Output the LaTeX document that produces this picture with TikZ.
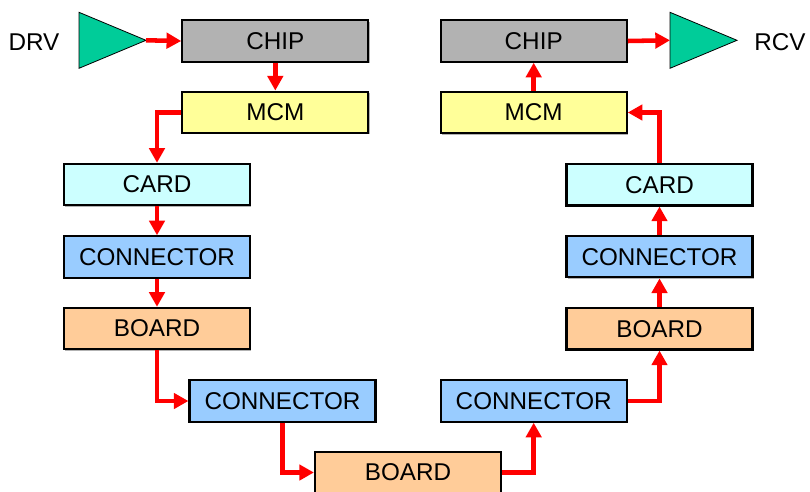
\documentclass[tikz,border=0pt]{standalone}
\usepackage{fontspec}
\setmainfont{Liberation Sans}
\usetikzlibrary{arrows.meta,shadows}
\definecolor{chipgray}{HTML}{B2B2B2}
\definecolor{mcmyellow}{HTML}{FFFF99}
\definecolor{cardcyan}{HTML}{CCFFFF}
\definecolor{connblue}{HTML}{99CCFF}
\definecolor{boardpeach}{HTML}{FFCC99}
\definecolor{ampgreen}{HTML}{00CC99}
\definecolor{sigred}{HTML}{FF0000}
\begin{document}
\begin{tikzpicture}[x=0.75pt,y=-0.75pt,
  blk/.style={draw=black, line width=1.6pt, rectangle, minimum width=139.5pt, minimum height=31pt, inner sep=0pt,
    font=\fontsize{18.2}{21}\selectfont,
    drop shadow={shadow xshift=1pt, shadow yshift=-1pt, fill=black, opacity=0.3}},
  chipbox/.style={blk, fill=chipgray},
  mcmbox/.style={blk, fill=mcmyellow},
  cardbox/.style={blk, fill=cardcyan},
  connbox/.style={blk, fill=connblue},
  boardbox/.style={blk, fill=boardpeach},
  sig/.style={draw=sigred, line width=3.4pt, -{Triangle[length=11pt,width=11.5pt]}},
  amp/.style={draw=black, line width=0.6pt, fill=ampgreen},
  lbl/.style={font=\fontsize{18.2}{21}\selectfont, inner sep=0pt}
]
\useasboundingbox (0,0) rectangle (810,492);
\begin{scope}
\clip (0,0) rectangle (810,492);
% amplifiers
\draw[amp] (79,12.3) -- (79,68.3) -- (146,40.3) -- cycle;
\coordinate (drvtip) at (146,40.3);
\draw[amp] (670,12.3) -- (670,68.3) -- (737,40.3) -- cycle;
\coordinate (rcvbase) at (670,40.3);
\node[lbl] (drv) at (34,42) {DRV};
\node[lbl] (rcv) at (780,42) {RCV};
% left side
\node[chipbox] (chipL) at (275.3,41) {CHIP};
\node[mcmbox] (mcmL) at (275.3,112.3) {MCM};
\node[cardbox] (cardL) at (157,184.5) {CARD};
\node[connbox] (connL) at (157,257) {CONNECTOR};
\node[boardbox] (boardL) at (157,328.5) {BOARD};
\node[connbox] (connM) at (282.5,401) {CONNECTOR};
\node[boardbox] (boardB) at (408,472.5) {BOARD};
% right side
\node[connbox] (connR) at (533.7,401) {CONNECTOR};
\node[boardbox] (boardR) at (659.5,328.8) {BOARD};
\node[connbox] (connR2) at (659.5,256.7) {CONNECTOR};
\node[cardbox] (cardR) at (659.5,184.8) {CARD};
\node[mcmbox] (mcmR) at (533.7,112.5) {MCM};
\node[chipbox] (chipR) at (533.7,41) {CHIP};
% signal path
\draw[sig] (drvtip) -- (chipL.west);
\draw[sig] (chipL.south) -- (mcmL.north);
\draw[sig] (mcmL.west) -| (cardL.north);
\draw[sig] (cardL.south) -- (connL.north);
\draw[sig] (connL.south) -- (boardL.north);
\draw[sig] (boardL.south) |- (connM.west);
\draw[sig] (connM.south) |- (boardB.west);
\draw[sig] (boardB.east) -| (connR.south);
\draw[sig] (connR.east) -| (boardR.south);
\draw[sig] (boardR.north) -- (connR2.south);
\draw[sig] (connR2.north) -- (cardR.south);
\draw[sig] (cardR.north) |- (mcmR.east);
\draw[sig] (mcmR.north) -- (chipR.south);
\draw[sig] (chipR.east) -- (rcvbase);
\end{scope}
\end{tikzpicture}
\end{document}
